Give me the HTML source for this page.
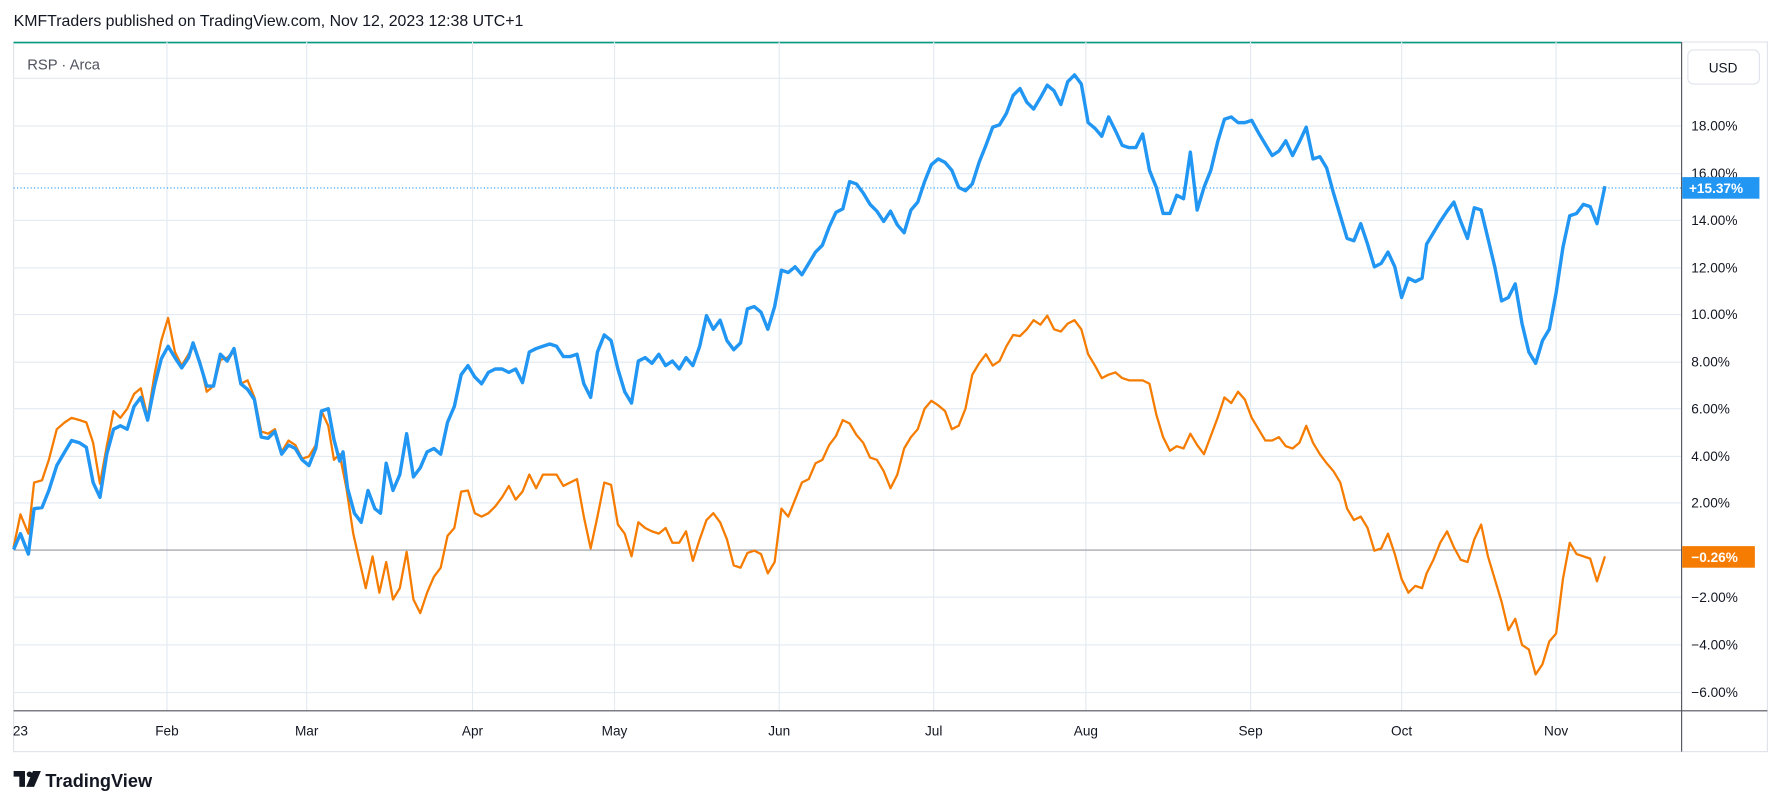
<!DOCTYPE html>
<html><head><meta charset="utf-8"><style>
html,body{margin:0;padding:0;background:#fff;}
svg{display:block;}
text{font-family:"Liberation Sans","DejaVu Sans",sans-serif;}
</style></head><body>
<svg width="1781" height="805" viewBox="0 0 1568 709" preserveAspectRatio="none" xmlns="http://www.w3.org/2000/svg">
<rect x="0" y="0" width="1568" height="709" fill="#fff"/>
<text x="12" y="23" font-size="14" fill="#131722">KMFTraders published on TradingView.com, Nov 12, 2023 12:38 UTC+1</text>
<!-- frame -->
<rect x="12" y="37" width="1544" height="625" fill="none" stroke="#e0e3eb" stroke-width="1"/>
<line x1="12" y1="37.5" x2="1480" y2="37.5" stroke="#089981" stroke-width="1.5"/>
<!-- grid -->
<g stroke="#e3eaf2" stroke-width="1">
<line x1="12" y1="69" x2="1480" y2="69"/>
<line x1="12" y1="111" x2="1480" y2="111"/>
<line x1="12" y1="153" x2="1480" y2="153"/>
<line x1="12" y1="194" x2="1480" y2="194"/>
<line x1="12" y1="236" x2="1480" y2="236"/>
<line x1="12" y1="277" x2="1480" y2="277"/>
<line x1="12" y1="319" x2="1480" y2="319"/>
<line x1="12" y1="360" x2="1480" y2="360"/>
<line x1="12" y1="402" x2="1480" y2="402"/>
<line x1="12" y1="443" x2="1480" y2="443"/>
<line x1="12" y1="526" x2="1480" y2="526"/>
<line x1="12" y1="568" x2="1480" y2="568"/>
<line x1="12" y1="610" x2="1480" y2="610"/>
<line x1="147" y1="37" x2="147" y2="626"/>
<line x1="270" y1="37" x2="270" y2="626"/>
<line x1="416" y1="37" x2="416" y2="626"/>
<line x1="541" y1="37" x2="541" y2="626"/>
<line x1="686" y1="37" x2="686" y2="626"/>
<line x1="822" y1="37" x2="822" y2="626"/>
<line x1="956" y1="37" x2="956" y2="626"/>
<line x1="1101" y1="37" x2="1101" y2="626"/>
<line x1="1234" y1="37" x2="1234" y2="626"/>
<line x1="1370" y1="37" x2="1370" y2="626"/>
</g>
<line x1="12" y1="484.5" x2="1480" y2="484.5" stroke="#9598a1" stroke-width="1"/>
<line x1="12" y1="165.5" x2="1480" y2="165.5" stroke="#2196f3" stroke-width="1" stroke-dasharray="1,2"/>
<line x1="12" y1="626" x2="1556" y2="626" stroke="#50535e" stroke-width="1"/>
<line x1="1480.5" y1="37" x2="1480.5" y2="662" stroke="#50535e" stroke-width="1"/>
<text x="24" y="61" font-size="13" fill="#50535e">RSP · Arca</text>
<!-- USD button -->
<rect x="1486" y="44" width="63" height="30" rx="5" fill="#fff" stroke="#e0e3eb"/>
<text x="1517" y="64" font-size="12" fill="#131722" text-anchor="middle">USD</text>
<!-- y labels -->
<g font-size="12" fill="#131722">
<text x="1489" y="115">18.00%</text>
<text x="1489" y="157">16.00%</text>
<text x="1489" y="198">14.00%</text>
<text x="1489" y="240">12.00%</text>
<text x="1489" y="281">10.00%</text>
<text x="1489" y="323">8.00%</text>
<text x="1489" y="364">6.00%</text>
<text x="1489" y="406">4.00%</text>
<text x="1489" y="447">2.00%</text>
<text x="1489" y="530">−2.00%</text>
<text x="1489" y="572">−4.00%</text>
<text x="1489" y="614">−6.00%</text>
</g>
<rect x="1481" y="156" width="68" height="19" fill="#2196f3"/>
<text x="1487" y="170" font-size="12" fill="#fff" font-weight="bold">+15.37%</text>
<rect x="1481" y="481" width="64" height="19" fill="#f57c00"/>
<text x="1489" y="495" font-size="12" fill="#fff" font-weight="bold">−0.26%</text>
<!-- x labels -->
<g font-size="12" fill="#131722" text-anchor="middle">
<text x="18" y="648">23</text>
<text x="147" y="648">Feb</text>
<text x="270" y="648">Mar</text>
<text x="416" y="648">Apr</text>
<text x="541" y="648">May</text>
<text x="686" y="648">Jun</text>
<text x="822" y="648">Jul</text>
<text x="956" y="648">Aug</text>
<text x="1101" y="648">Sep</text>
<text x="1234" y="648">Oct</text>
<text x="1370" y="648">Nov</text>
</g>
<!-- series -->
<polyline fill="none" stroke="#f57c00" stroke-width="2" stroke-linejoin="round" points="12,482 18,453 25,470 30,425 37,423 43,405 50,378 57,372 63,368 70,370 76,372 82,390 88,426 94,393 100,362 106,368 112,360 118,347 124,342 130,368 136,330 142,300 148,280 154,310 160,322 166,312 170,305 176,318 182,345 188,340 194,317 200,315 206,310 212,338 218,335 224,350 230,380 236,382 242,378 248,398 254,388 260,392 266,404 272,402 278,392 283,362 289,375 294,405 299,400 305,430 311,470 316,492 322,518 328,490 334,522 340,495 346,528 352,518 358,486 364,528 370,540 376,522 382,508 388,500 394,472 400,465 406,433 412,432 418,452 424,455 430,452 436,446 442,438 448,428 454,440 460,433 466,418 472,430 478,418 484,418 490,418 496,428 502,425 508,422 514,455 520,483 526,455 532,425 538,427 544,462 550,470 556,490 562,460 568,465 574,468 580,470 586,465 592,478 598,478 604,468 610,494 616,475 622,458 628,452 634,460 640,475 646,498 652,500 658,487 664,485 670,488 676,505 682,495 688,448 694,455 700,440 706,425 712,422 718,408 724,405 730,392 736,384 742,370 748,373 754,383 760,390 766,403 772,405 778,415 784,430 790,418 796,395 802,385 808,378 814,360 820,353 826,357 832,362 838,378 844,375 850,360 856,330 862,320 868,312 874,322 880,318 886,305 892,295 898,296 904,290 910,282 916,286 922,278 928,290 934,292 940,285 946,282 952,290 958,312 964,322 970,333 976,330 982,328 988,333 994,335 1000,335 1006,335 1012,338 1018,365 1024,385 1030,397 1036,393 1042,395 1048,382 1054,392 1060,400 1066,384 1072,368 1078,350 1084,355 1090,345 1096,352 1102,368 1108,378 1114,388 1120,388 1126,385 1132,393 1138,395 1144,390 1150,375 1156,390 1162,400 1168,408 1174,415 1180,425 1186,448 1192,458 1198,455 1204,465 1210,485 1216,483 1222,470 1228,488 1234,510 1240,522 1246,516 1252,518 1256,505 1262,493 1268,478 1274,468 1280,482 1286,493 1292,495 1298,475 1304,462 1310,490 1316,510 1322,530 1328,555 1334,545 1340,568 1346,572 1352,594 1358,585 1364,565 1370,558 1376,510 1382,478 1388,488 1394,490 1400,492 1406,512 1413,490"/>
<polyline fill="none" stroke="#2196f3" stroke-width="3" stroke-linejoin="round" points="12,484 18,470 25,488 30,448 37,447 43,432 50,410 57,398 63,388 70,390 76,394 82,425 88,438 94,400 100,378 106,375 112,378 118,358 124,350 130,370 136,340 142,316 148,305 154,315 160,324 166,315 170,302 176,320 182,340 188,340 194,312 200,318 206,307 212,338 218,343 224,352 230,385 236,386 242,380 248,400 254,392 260,395 266,405 272,410 278,395 283,362 289,360 294,387 299,406 302,398 306,430 312,452 318,460 324,432 330,448 335,452 340,408 346,432 352,418 358,382 364,420 370,412 376,398 382,395 388,400 394,372 400,358 406,330 412,322 418,332 424,338 430,328 436,325 442,325 448,328 454,325 460,337 466,310 472,307 478,305 484,303 490,305 496,314 502,314 508,312 514,338 520,350 526,310 532,295 538,300 544,325 550,345 556,355 562,318 568,315 574,320 580,312 586,322 592,318 598,325 604,315 610,322 616,305 622,278 628,290 634,282 640,300 646,308 652,302 658,272 664,270 670,275 676,290 682,270 688,238 694,240 700,235 706,242 712,232 718,222 724,216 730,200 736,187 742,184 748,160 754,162 760,170 766,180 772,186 778,195 784,186 790,198 796,205 802,185 808,178 814,160 820,145 826,140 832,143 838,150 844,165 850,168 856,162 862,143 868,128 874,112 880,110 886,100 892,84 898,78 904,90 910,96 916,86 922,75 928,80 934,92 940,72 946,66 952,74 958,108 964,113 970,120 976,103 982,115 988,128 994,130 1000,130 1006,118 1012,150 1018,165 1024,188 1030,188 1036,172 1042,175 1048,134 1054,185 1060,165 1066,150 1072,125 1078,105 1084,103 1090,108 1096,108 1102,106 1108,117 1114,127 1120,137 1126,133 1132,124 1138,137 1144,125 1150,112 1156,140 1162,138 1168,148 1174,170 1180,190 1186,210 1192,212 1198,197 1204,215 1210,235 1216,232 1222,222 1228,235 1234,262 1240,245 1246,248 1252,245 1256,215 1262,205 1268,195 1274,186 1280,178 1286,195 1292,210 1298,183 1304,185 1310,210 1316,235 1322,265 1328,262 1334,250 1340,285 1346,310 1352,320 1358,300 1364,290 1370,258 1376,218 1382,190 1388,188 1394,180 1400,182 1406,197 1413,164"/>
<!-- footer logo -->
<g transform="translate(12,679)">
<path d="M0 0 H10 V14 H5 V5 H0 Z" fill="#131722"/>
<circle cx="14" cy="3" r="2.5" fill="#131722"/>
<path d="M17 0 H24 L18 14 H11 Z" fill="#131722"/>
</g>
<text x="40" y="693" font-size="16" fill="#131722" font-weight="bold">TradingView</text>
</svg>
</body></html>
